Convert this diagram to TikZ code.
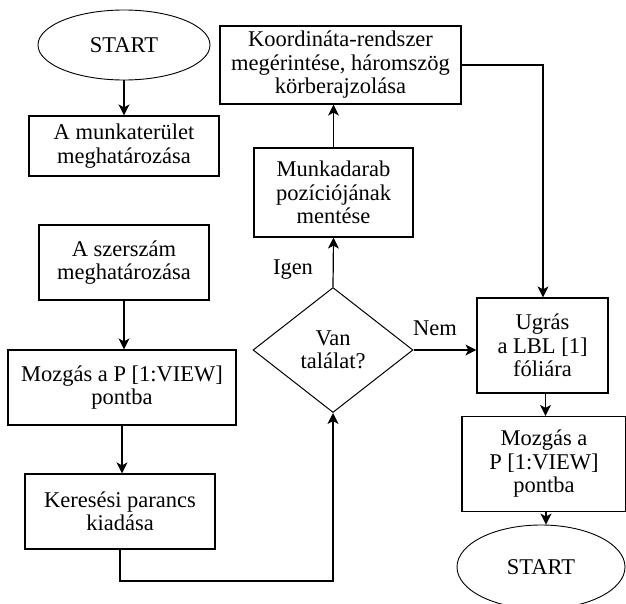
\documentclass[tikz,border=0pt]{standalone}
\usepackage{fontspec}
\setmainfont{Liberation Serif}
\usetikzlibrary{shapes.geometric,arrows.meta}
\begin{document}
\begin{tikzpicture}[x=1pt,y=-1pt,
  every node/.style={font=\fontsize{22.5}{23.5}\selectfont, align=center, inner sep=0pt},
  box/.style={draw, line width=1.2pt, rectangle},
  term/.style={draw, line width=0.9pt, ellipse},
  dec/.style={draw, line width=1pt, diamond, aspect=1.28},
  conn/.style={line width=1.2pt, -{Stealth[length=11pt,width=11pt,inset=3pt]}},
  lbl/.style={font=\fontsize{22.5}{23.5}\selectfont}]
\useasboundingbox (0,0) rectangle (626,604);
\node[term, minimum width=172, minimum height=70] (s1) at (124,45) {START};
\node[box, minimum width=190, minimum height=60] (n1) at (124,146) {A munkaterület\\meghatározása};
\node[box, minimum width=170, minimum height=75] (n2) at (124,262.5) {A szerszám\\meghatározása};
\node[box, minimum width=228, minimum height=75] (n3) at (122,387.5) {Mozgás a P [1:VIEW]\\pontba};
\node[box, minimum width=190, minimum height=75] (n4) at (120,511.5) {Keresési parancs\\kiadása};
\node[dec, minimum width=160, minimum height=125] (d) at (333,350) {Van\\találat?};
\node[box, minimum width=159, minimum height=89] (m) at (333.5,192.5) {Munkadarab\\pozíciójának\\mentése};
\node[box, minimum width=241, minimum height=78] (k) at (340.5,65) {Koordináta-rendszer\\megérintése, háromszög\\körberajzolása};
\node[box, minimum width=131, minimum height=95] (u) at (542.5,345.5) {Ugrás\\a LBL [1]\\fóliára};
\node[box, minimum width=164, minimum height=95] (z) at (544,464) {Mozgás a\\P [1:VIEW]\\pontba};
\node[term, minimum width=168, minimum height=84] (e) at (541,567) {START};
\node[lbl] (igen) at (293,270) {Igen};
\node[lbl] (nem) at (435,328) {Nem};
\coordinate (c1) at (122,581);
\coordinate (c2) at (543,65);
\draw[conn] (s1.south) -- (n1.north);
\draw[conn] (n2.south) -- (n2.south |- n3.north);
\draw[conn] (n3.south) -- (n3.south |- n4.north);
\draw[conn] (n4.south) -- (n4.south |- c1) -| (d.south);
\draw[conn] (d.north) -- (m.south);
\draw[conn] (m.north) -- (m.north |- k.south);
\draw[conn] (k.east) -- (c2) -- (c2 |- u.north);
\draw[conn] (d.east) -- (d.east -| u.west);
\draw[conn] (u.south) ++(3,0) coordinate (us) -- (us |- z.north);
\draw[conn] (z.south) ++(2,0) coordinate (zs) -- (zs |- e.north);
\end{tikzpicture}
\end{document}
